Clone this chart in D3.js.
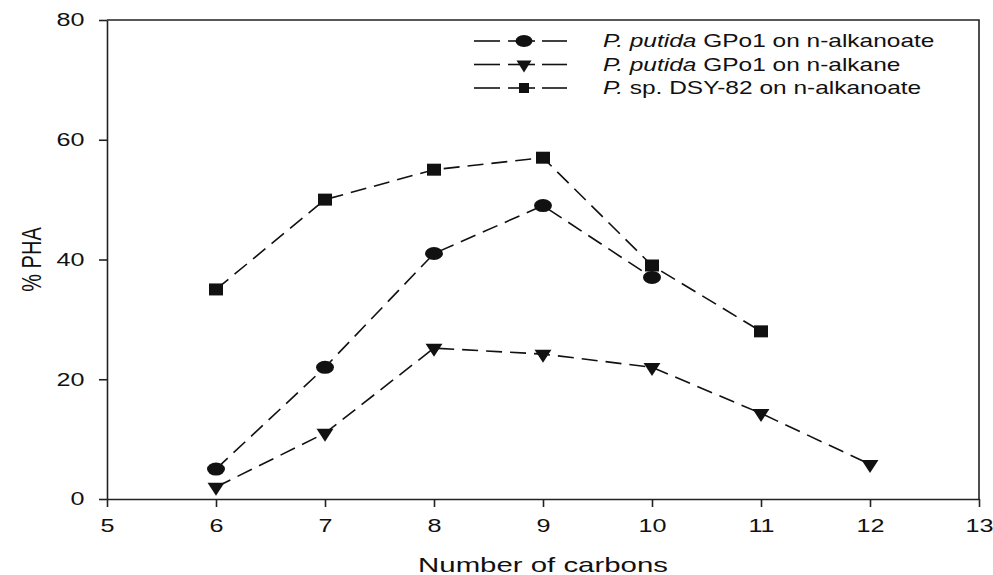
<!DOCTYPE html>
<html>
<head>
<meta charset="utf-8">
<script src="https://cdn.jsdelivr.net/npm/d3@7"></script>
<style>
	body { margin: 0; background: #fff; }
	text { font-family: "Liberation Sans", Arial, sans-serif; fill: #111; }
</style>
</head>
<body>
<svg id="chart" width="993" height="575"></svg>
<script>
'use strict';

// data
const carbons = [6, 7, 8, 9, 10, 11, 12];
const gpo1Alkanoate = [5, 22, 41, 49, 37, null, null];
const gpo1Alkane = [2, 11, 25.2, 24.2, 22, 14.3, 5.8];
const dsyAlkanoate = [35, 50, 55, 57, 39, 28, null];
const xTicks = [5, 6, 7, 8, 9, 10, 11, 12, 13];
const yTicks = [0, 20, 40, 60, 80];

// the original picture is stretched sideways, so text and marks get a horizontal scale
const stretch = 1.4;

const series = [
	{ name: ["P. putida", " GPo1 on n-alkanoate"], values: gpo1Alkanoate,
		symbol: d3.symbolCircle, size: 133, sx: 1.38, lsize: 113, lsx: 1.42 },
	{ name: ["P. putida", " GPo1 on n-alkane"], values: gpo1Alkane,
		symbol: d3.symbolTriangle, size: 97, sx: 1.13, lsize: 83, lsx: 1.08, flip: true },
	{ name: ["P.", " sp. DSY-82 on n-alkanoate"], values: dsyAlkanoate,
		symbol: d3.symbolSquare, size: 144, sx: 1.17, lsize: 100, lsx: 1 }
];

const svg = d3.select("#chart");
const margin = { left: 107, right: 14, top: 20, bottom: 76 };
const width = 993 - margin.left - margin.right;
const height = 575 - margin.top - margin.bottom;

const x = d3.scaleLinear().domain([5, 13]).range([0, width]);
const y = d3.scaleLinear().domain([0, 80]).range([height, 0]);

const g = svg.append("g").attr("transform", `translate(${margin.left},${margin.top})`);

// frame: top and right lines
g.append("path")
	.attr("d", `M0,0H${width}V${height}`)
	.attr("fill", "none")
	.attr("stroke", "#222")
	.attr("stroke-width", 1.6);

const styleAxis = sel => {
	sel.select(".domain").attr("stroke", "#222").attr("stroke-width", 1.6);
	sel.selectAll(".tick line").attr("stroke", "#222").attr("stroke-width", 1.6);
	sel.selectAll(".tick text")
		.style("font-size", "18px")
		.attr("fill", "#111")
		.attr("transform", `scale(${stretch},1)`);
};

g.append("g")
	.attr("transform", `translate(0,${height})`)
	.call(d3.axisBottom(x).tickValues(xTicks).tickSize(8).tickPadding(12).tickSizeOuter(0))
	.call(styleAxis);

g.append("g")
	.call(d3.axisLeft(y).tickValues(yTicks).tickSize(8).tickPadding(8).tickSizeOuter(0))
	.call(styleAxis);

// axis titles
svg.append("text")
	.attr("transform", `translate(${margin.left + width / 2},572) scale(${stretch},1)`)
	.attr("text-anchor", "middle")
	.style("font-size", "21px")
	.text("Number of carbons");

svg.append("text")
	.attr("transform", `translate(31,${margin.top + height / 2}) rotate(-90) scale(1,${stretch})`)
	.attr("text-anchor", "middle")
	.attr("dy", "0.35em")
	.style("font-size", "20px")
	.text("% PHA");

const line = d3.line()
	.defined(d => d[1] != null)
	.x(d => x(d[0]))
	.y(d => y(d[1]));

series.forEach(s => {
	const pts = carbons.map((c, i) => [c, s.values[i]]);
	g.append("path")
		.datum(pts)
		.attr("d", line)
		.attr("fill", "none")
		.attr("stroke", "#111")
		.attr("stroke-width", 1.6)
		.attr("stroke-dasharray", "16,8");

	g.selectAll(null)
		.data(pts.filter(d => d[1] != null))
		.join("path")
		.attr("d", d3.symbol().type(s.symbol).size(s.size))
		.attr("transform", d => `translate(${x(d[0])},${y(d[1])})${s.flip ? " rotate(180)" : ""} scale(${s.sx},1)`)
		.attr("fill", "#111");
});

// legend
const legend = svg.append("g").attr("transform", "translate(474,41)");
series.forEach((s, i) => {
	const row = legend.append("g").attr("transform", `translate(0,${i * 23.5})`);
	[[0, 26], [34, 61], [68, 93]].forEach(([a, b]) => {
		row.append("line")
			.attr("x1", a).attr("x2", b)
			.attr("stroke", "#111")
			.attr("stroke-width", 1.6);
	});
	row.append("path")
		.attr("d", d3.symbol().type(s.symbol).size(s.lsize))
		.attr("transform", `translate(50,0)${s.flip ? " rotate(180)" : ""} scale(${s.lsx},1)`)
		.attr("fill", "#111");
	const t = row.append("text")
		.attr("transform", "translate(129,0) scale(1.36,1)")
		.attr("dy", "0.35em")
		.style("font-size", "18px");
	t.append("tspan").style("font-style", "italic").text(s.name[0]);
	t.append("tspan").text(s.name[1]);
});
</script>
</body>
</html>
